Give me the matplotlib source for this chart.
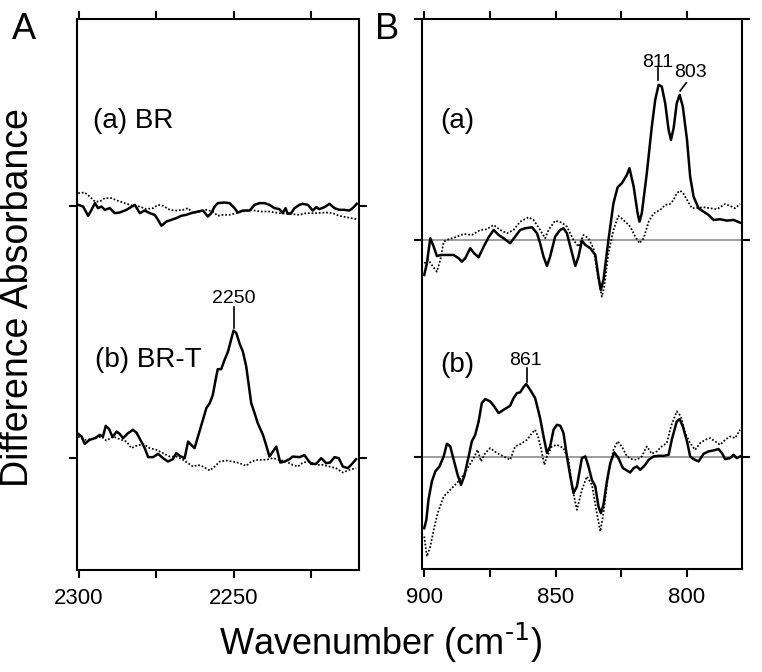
import matplotlib
matplotlib.use("Agg")
import matplotlib.pyplot as plt

plt.rcParams['font.family'] = ['Liberation Sans', 'DejaVu Sans']
plt.rcParams['mathtext.default'] = 'regular'

# ---- panel A, trace (a) BR (absorbance in arbitrary units) ----
wn_Aa = [2300.2, 2298.6, 2297.0, 2295.9, 2294.8, 2293.8, 2292.7, 2291.6, 2290.0, 2288.4,
         2286.8, 2284.6, 2281.9, 2280.3, 2278.7, 2277.1, 2275.5, 2274.4, 2273.3, 2271.7,
         2270.1, 2268.5, 2266.9, 2265.3, 2263.7, 2261.5, 2259.9, 2258.3, 2257.2, 2256.1,
         2255.1, 2252.9, 2251.3, 2249.7, 2248.6, 2247.0, 2244.8, 2243.2, 2241.6, 2240.0,
         2238.4, 2236.8, 2235.2, 2234.1, 2233.2, 2232.5, 2231.4, 2230.3, 2228.7, 2227.6,
         2226.0, 2224.4, 2223.3, 2222.3, 2220.6, 2219.0, 2217.4, 2215.8, 2214.2, 2212.6,
         2211.5, 2210.2]
Aa_solid = [1.0, -0.7, -10, -4, 2.7, -2.3, -0.7, -4, -2.3, -7.3,
            -6.7, -4, 1, -7.3, -4.7, -7.3, -9, -14, -20, -15.7,
            -14, -12.3, -10, -9, -7.3, -5.7, -4.7, -10.7, -7.3, -0.7,
            2.7, 3.3, 2.7, -2.3, -6.7, -4.7, -4.7, 1, 2.7, 2.7,
            1, -2.3, -3.3, -7.3, -2.3, -8, -7.3, -2.3, 1, 2,
            1, -4.7, -1.3, -3.3, -1.3, 2, -2.3, -4, -4, -4.7,
            -2.3, 2]

wn_Aa_dot = [2300.2, 2298.1, 2296.5, 2294.8, 2293.2, 2291.6, 2289.5, 2287.3, 2285.2, 2282.5,
             2280.3, 2278.2, 2276.0, 2274.4, 2272.8, 2270.6, 2268.5, 2266.3, 2264.7, 2263.1,
             2261.0, 2258.8, 2256.7, 2255.1, 2253.4, 2251.3, 2249.1, 2247.0, 2244.3, 2241.6,
             2238.4, 2235.2, 2231.9, 2228.7, 2226.6, 2223.3, 2220.1, 2218.0, 2215.8, 2213.7,
             2210.4]
Aa_dot = [12.7, 13.3, 9.3, 4.3, 4.3, 7.7, 7.7, 5, 2.7, 0,
          -0.7, -3.3, -2.3, 1, 0, -4, -4.7, -4, -2.3, -7.3,
          -5.7, -4, -5.7, -10, -9, -9, -7.3, -5.7, -4, -5.7,
          -5.7, -7.3, -8, -9, -7.3, -7.3, -6.7, -7.3, -10, -11.3,
          -13.3]

# ---- panel A, trace (b) BR-T ----
wn_Ab = [2300.2, 2299.1, 2298.1, 2296.5, 2294.8, 2293.2, 2292.2, 2291.3, 2290.2, 2289.1,
         2287.8, 2286.8, 2285.7, 2284.1, 2282.5, 2281.4, 2280.1, 2278.7, 2277.6, 2276.0,
         2274.4, 2272.8, 2271.2, 2269.6, 2268.5, 2267.4, 2265.8, 2264.7, 2263.7, 2262.6,
         2261.5, 2259.9, 2258.8, 2257.7, 2256.7, 2255.6, 2255.1, 2254.0, 2252.9, 2251.8,
         2250.8, 2250.0, 2249.1, 2248.1, 2247.0, 2245.9, 2244.3, 2243.2, 2242.2, 2240.5,
         2239.5, 2238.4, 2237.3, 2236.2, 2234.9, 2233.5, 2231.9, 2230.9, 2228.7, 2227.1,
         2226.0, 2224.9, 2223.3, 2221.7, 2220.1, 2218.8, 2217.4, 2216.0, 2214.7, 2213.1,
         2212.0, 2210.4]
Ab_solid = [24, 21.3, 14, 18, 19.7, 23, 21.3, 32, 28.7, 20.7,
            26.3, 24, 19.7, 24.7, 28, 25.3, 18, 9.7, 0.7, 0.7,
            4, -0.3, -3.7, -1.3, 4.7, 2, -0.3, 16.3, 13, 9.7,
            21.3, 38, 49.7, 54.7, 63, 81.3, 88.7, 88.7, 98, 106.3,
            118, 127.3, 124.7, 114.7, 106.3, 91.3, 54.7, 44.7, 34.7, 23,
            13, 1.3, 6.3, 11.3, -4.7, -3.7, -1.3, 1.3, 0.7, 2.7,
            -2, -6, -6, -0.3, -5.3, -4.7, 0.7, -0.3, -8.7, -10.3,
            -7, -1.3]

wn_Ab_dot = [2300.2, 2298.1, 2295.4, 2292.7, 2291.1, 2288.9, 2286.8, 2284.6, 2283.0, 2281.4,
             2279.2, 2277.1, 2274.9, 2272.8, 2270.6, 2268.5, 2266.3, 2264.7, 2263.1, 2261.5,
             2259.9, 2257.7, 2256.1, 2254.5, 2252.4, 2250.2, 2248.1, 2245.9, 2244.3, 2242.2,
             2239.5, 2237.3, 2235.2, 2233.0, 2230.9, 2229.2, 2227.6, 2225.5, 2223.3, 2221.2,
             2219.0, 2216.9, 2214.7, 2212.6, 2210.4]
Ab_dot = [21.3, 18, 18.7, 21.3, 17.3, 21.3, 18.7, 16.3, 9.7, 12,
          14, 9.7, 8, 4.7, 1.3, 1.3, -2, -5.3, -8.7, -7,
          -8.7, -12.7, -8.7, -3.7, -2.7, -3.7, -5.3, -8, -3.7, -2,
          -2, -0.3, -2, -3.7, -7, -8.7, -4.7, -3.7, -7, -7,
          -8.7, -10.3, -14.7, -12, -10.3]

# ---- panel B, trace (a) ----
wn_Ba = [900.0, 899.0, 897.7, 896.4, 895.2, 893.3, 891.4, 888.8, 886.9, 885.7,
         884.4, 882.5, 881.0, 879.3, 877.4, 875.5, 873.6, 871.7, 869.8, 867.3,
         865.4, 863.5, 861.6, 859.0, 857.1, 855.9, 854.6, 853.3, 852.1, 850.2,
         848.3, 847.0, 845.7, 844.4, 842.5, 841.3, 840.0, 838.7, 836.8, 834.9,
         833.7, 832.8, 831.8, 829.9, 828.0, 826.4, 824.8, 822.9, 821.9, 820.3,
         818.8, 818.1, 817.2, 815.3, 813.4, 812.1, 810.8, 809.6, 808.3, 807.0,
         806.1, 805.1, 803.9, 802.8, 801.6, 800.0, 798.8, 797.5, 795.6, 793.7,
         791.8, 789.9, 787.4, 784.8, 782.3, 779.8]
Ba_solid = [-35, -23.3, 1.7, -6.7, -16, -15, -15, -15, -18.3, -21.7,
            -18.3, -8.3, -13.3, -17.3, -6.7, 2.7, 10, 5, 1.7, -3.3,
            3.3, 10, 11.7, 12.7, 6.7, -3.3, -16.7, -26, -16.7, 3.3,
            10, 11.7, 6.7, -6.7, -26, -16.7, -0.7, -5, -8.3, -15,
            -36.7, -50, -40, 0, 36.7, 52.7, 56.7, 65, 71.7, 53.3,
            26.7, 18.3, 26.7, 66.7, 113.3, 140, 155, 153.3, 136.7, 110,
            100, 111.7, 136.7, 145, 133.3, 100, 63.3, 43.3, 31.7, 28.3,
            25, 20, 20.7, 19.3, 20, 17.3]

wn_Ba_dot = [900.0, 898.4, 897.1, 895.2, 893.9, 892.6, 890.7, 888.2, 885.0, 881.9,
             878.7, 876.2, 873.6, 871.1, 868.5, 866.0, 863.5, 860.3, 858.4, 855.9,
             854.0, 852.7, 850.2, 847.6, 845.7, 843.2, 841.3, 839.4, 837.5, 835.6,
             833.7, 832.4, 831.5, 829.9, 828.0, 826.1, 824.2, 821.6, 819.7, 818.1,
             816.5, 814.6, 812.7, 810.2, 808.3, 806.4, 805.1, 803.9, 802.6, 801.3,
             800.0, 798.1, 796.2, 793.7, 791.2, 788.6, 785.5, 783.6, 781.7, 779.8]
Ba_dot = [-23.3, -20, -25, -31.7, -20, -1.7, 0.7, 2.7, 6, 5,
          10, 10.7, 15, 10, 6.7, 10, 18.3, 22.7, 20, 10,
          1.7, 10, 19.3, 17.3, 13.3, 0, -6.7, 5, 1.7, -8.3,
          -40, -56.7, -46.7, -13.3, 10, 24, 20, 13.3, 3.3, -3.3,
          1.7, 18.3, 26.7, 30, 35, 36, 40, 46.7, 49.3, 46,
          40, 31.7, 32, 32.7, 31.7, 30.7, 36, 34, 31.7, 36]

# ---- panel B, trace (b) ----
wn_Bb = [900.0, 899.2, 898.4, 897.1, 895.8, 894.2, 892.6, 891.4, 890.1, 888.8,
         887.3, 886.0, 884.8, 883.1, 881.9, 880.6, 879.3, 878.1, 876.8, 874.9,
         873.4, 871.7, 869.8, 867.3, 866.0, 864.7, 863.5, 862.2, 861.2, 859.7,
         857.8, 855.9, 854.6, 853.3, 852.1, 850.8, 849.5, 848.2, 847.0, 845.7,
         844.4, 843.2, 841.9, 840.0, 838.7, 837.5, 836.2, 834.9, 833.7, 832.8,
         831.8, 830.5, 829.2, 827.7, 826.1, 824.4, 822.9, 821.6, 820.3, 819.1,
         817.8, 815.9, 814.6, 812.7, 810.8, 808.9, 807.0, 805.8, 803.9, 802.8,
         801.6, 800.0, 798.8, 797.5, 795.6, 793.7, 791.8, 789.9, 788.0, 786.7,
         785.5, 783.6, 782.3, 781.0, 779.8]
Bb_solid = [-71, -62.7, -42.7, -24.3, -14.3, -9.3, 0.7, 13.3, 10.7, -2.7,
            -17.7, -27.7, -19.3, 0.7, 15.7, 22.3, 35.7, 54, 58, 55.7,
            50.7, 44, 47.3, 51.3, 59, 64, 64.7, 70, 73, 67.3,
            59, 39, 20.7, 4, 10.7, 27.3, 32.3, 31.3, 24, 0.7,
            -19.3, -36, -29.3, -1, 0.7, -9.3, -22.7, -29.3, -49.3, -56,
            -47.7, -24.3, -6, 4.7, -1, -11, -13.3, -15.3, -11, -9.3,
            -12.7, -7.7, -2.7, 0.7, 1.3, 1.3, 2.3, 17.3, 35.7, 38,
            30.7, 15.7, 0.7, -2, -4.3, 3.3, 5.7, 6.7, 8, 4,
            -2, -1, 2.3, -1, 0.7]

wn_Bb_dot = [900.0, 899.0, 897.7, 896.4, 894.9, 892.6, 890.1, 887.6, 885.0, 883.1,
             881.2, 879.7, 878.4, 876.8, 874.9, 872.3, 869.8, 867.3, 865.4, 863.2,
             860.9, 859.0, 857.8, 856.5, 855.2, 854.3, 853.3, 851.4, 849.5, 847.0,
             845.1, 843.8, 841.9, 840.0, 838.1, 836.2, 834.3, 833.0, 831.8, 829.9,
             828.0, 826.4, 824.8, 822.9, 821.0, 819.1, 817.2, 815.3, 813.4, 811.5,
             809.6, 807.7, 806.1, 803.9, 802.3, 800.7, 798.8, 796.9, 795.0, 793.1,
             791.2, 789.3, 787.4, 785.5, 783.6, 781.7, 779.8]
Bb_dot = [-79.3, -99.3, -89.3, -72.7, -56, -39.3, -32.7, -26, -17.7, -9.3,
          -1, 7.3, -4.3, 4, 9, 4, 0.7, -2.7, 10.7, 13.3,
          17.3, 24, 27.3, 19, 4, -7.7, 0.7, 10.7, 12.3, 9,
          -2.7, -29.3, -52.7, -32.7, -19.3, -27.7, -56, -74.3, -56, -16,
          7.3, 15.7, 10.7, 0.7, -2, -2.7, 0.7, 10.7, 3.3, 5.7,
          10.7, 14, 30.7, 45.7, 40.7, 24, 14, 7.3, 14, 17.3,
          19, 15.7, 12.3, 17.3, 20.7, 19, 27.3]

# vertical offsets of the stacked traces
offA = [0, -252]
offB = [0, -217]

fig = plt.figure(figsize=(7.62, 6.72), dpi=100)
axA = fig.add_axes([0.101, 0.152, 0.370, 0.820])
axB = fig.add_axes([0.554, 0.153, 0.420, 0.819])

solid = dict(color='black', lw=1.8)
dotted = dict(color='black', lw=1.25, linestyle=(0, (1, 1.1)))


def shift(vals, off):
    return [v + off for v in vals]


axA.plot(wn_Aa_dot, shift(Aa_dot, offA[0]), **dotted)
axA.plot(wn_Aa, shift(Aa_solid, offA[0]), **solid)
axA.plot(wn_Ab_dot, shift(Ab_dot, offA[1]), **dotted)
axA.plot(wn_Ab, shift(Ab_solid, offA[1]), **solid)

for off in offB:
    axB.axhline(off, color='#8c8c8c', lw=1.2, zorder=1)
axB.plot(wn_Ba_dot, shift(Ba_dot, offB[0]), **dotted)
axB.plot(wn_Ba, shift(Ba_solid, offB[0]), **solid)
axB.plot(wn_Bb_dot, shift(Bb_dot, offB[1]), **dotted)
axB.plot(wn_Bb, shift(Bb_solid, offB[1]), **solid)

axA.set_xlim(2300.6, 2209.5)
axA.set_ylim(-364, 187)
axA.set_xticks([2300, 2275, 2250, 2225])
axA.set_xticklabels(['2300', '', '2250', ''])
axA.set_yticks(offA)

axB.set_xlim(900.8, 779.0)
axB.set_ylim(-329, 221)
axB.set_xticks([900, 875, 850, 825, 800])
axB.set_xticklabels(['900', '', '850', '', '800'])
axB.set_yticks([221] + offB)

for ax in (axA, axB):
    ax.set_yticklabels([])
    for s in ax.spines.values():
        s.set_linewidth(1.5)
    ax.tick_params(direction='out', length=6, width=1.5, top=True, right=True,
                   labelsize=16, pad=7)

# peak labels
lab = dict(ha='center', va='baseline', fontsize=14)
line = dict(color='black', lw=1.2)
axA.text(2250, -97, '2250', **lab)
axA.plot([2250, 2250], [-101, -122], **line)
axB.text(811.3, 173, '811', **lab)
axB.plot([811, 811], [172, 160], **line)
axB.text(798.8, 163, '803', **lab)
axB.plot([800.3, 802.6], [157, 149], **line)
axB.text(861.6, -125, '861', **lab)
axB.plot([861, 861], [-128, -142], **line)

# trace labels
tl = dict(ha='left', va='baseline', fontsize=20)
axA.text(2295.5, 78, '(a) BR', **tl)
axA.text(2294.8, -161, '(b) BR-T', **tl)
axB.text(893.9, 112, '(a)', **tl)
axB.text(893.9, -132, '(b)', **tl)

fig.text(0.016, 0.942, 'A', fontsize=26, va='baseline', ha='left')
fig.text(0.492, 0.942, 'B', fontsize=26, va='baseline', ha='left')
fig.text(0.047, 0.557, 'Difference Absorbance', fontsize=27, rotation=90,
         ha='right', va='center')
fig.text(0.5, 0.025, r'Wavenumber (cm$^{\text{-1}}$)', fontsize=26, ha='center',
         va='baseline')

fig.savefig('out.png', dpi=100)
